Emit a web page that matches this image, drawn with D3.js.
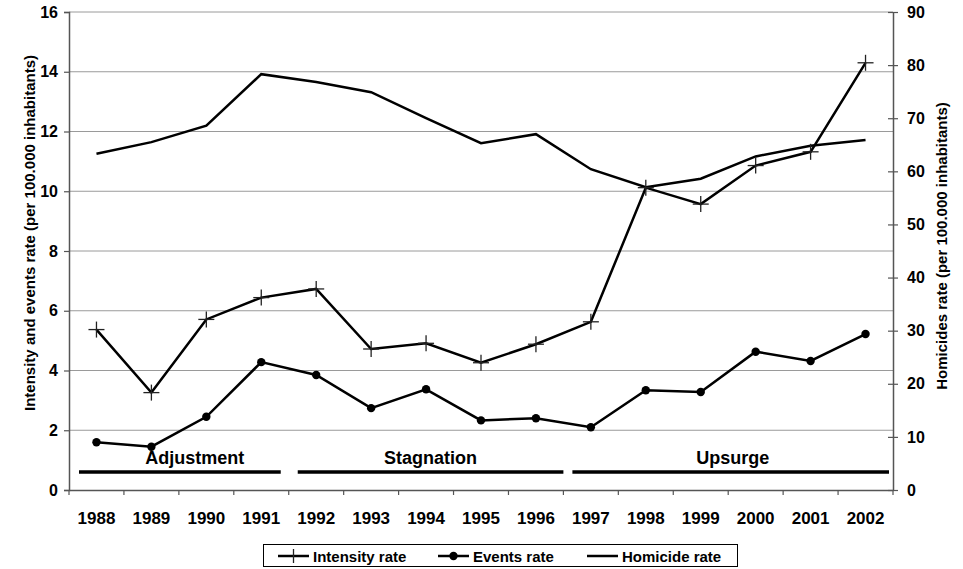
<!DOCTYPE html>
<html>
<head>
<meta charset="utf-8">
<script src="https://cdn.jsdelivr.net/npm/d3@7"></script>
<style>
  html, body { margin: 0; padding: 0; background: #fff; }
  svg { display: block; font-family: "Liberation Sans", Arial, sans-serif; font-weight: bold; }
</style>
</head>
<body>
<svg id="chart" width="963" height="569"></svg>
<script>
const years = ["1988","1989","1990","1991","1992","1993","1994","1995","1996","1997","1998","1999","2000","2001","2002"];
const intensityRate = [5.37, 3.26, 5.71, 6.44, 6.73, 4.72, 4.91, 4.26, 4.88, 5.63, 10.12, 9.57, 10.86, 11.32, 14.30];
const eventsRate    = [1.60, 1.45, 2.45, 4.28, 3.85, 2.74, 3.37, 2.33, 2.40, 2.10, 3.34, 3.28, 4.63, 4.32, 5.22];
const homicideRate  = [63.3, 65.5, 68.6, 78.3, 76.8, 74.9, 70.0, 65.3, 67.0, 60.4, 57.0, 58.6, 62.8, 64.8, 65.9];
const leftTicks = [0, 2, 4, 6, 8, 10, 12, 14, 16];
const rightTicks = [0, 10, 20, 30, 40, 50, 60, 70, 80, 90];
const periodLabels = ["Adjustment", "Stagnation", "Upsurge"];
const periodStart = ["1988", "1992", "1997"];
const periodEnd = ["1991", "1996", "2002"];
const legendLabels = ["Intensity rate", "Events rate", "Homicide rate"];

const svg = d3.select("#chart");
const L = 69, R = 893, T = 12, B = 490;
const FONT = "Liberation Sans, Arial, sans-serif";

const x = d3.scaleBand().domain(years).range([L, R]).padding(0);
const yL = d3.scaleLinear().domain([0, 16]).range([B, T]);
const yR = d3.scaleLinear().domain([0, 90]).range([B, T]);
const cx = d => x(d) + x.bandwidth() / 2;

// gridlines
svg.append("g").selectAll("line").data(leftTicks.filter(d => d > 0)).join("line")
  .attr("x1", L).attr("x2", R)
  .attr("y1", d => yL(d)).attr("y2", d => yL(d))
  .attr("stroke", "#9a9a9a").attr("stroke-width", 1);

// left axis
const gL = svg.append("g").attr("transform", `translate(${L},0)`)
  .call(d3.axisLeft(yL).tickValues(leftTicks).tickSize(5).tickPadding(6).tickFormat(d3.format("d")));
gL.select(".domain").attr("stroke", "#555").attr("stroke-width", 1.5);
gL.selectAll(".tick line").attr("stroke", "#555").attr("stroke-width", 1.2);
gL.selectAll("text").attr("font-size", 16).attr("font-weight", "bold").attr("fill", "#000")
  .attr("font-family", FONT);

// right axis
const gR = svg.append("g").attr("transform", `translate(${R},0)`)
  .call(d3.axisRight(yR).tickValues(rightTicks).tickSizeInner(5).tickSizeOuter(0).tickPadding(9).tickFormat(d3.format("d")));
gR.select(".domain").attr("stroke", "#555").attr("stroke-width", 1.5);
gR.selectAll(".tick line").attr("x1", -5).attr("stroke", "#555").attr("stroke-width", 1.2);
gR.selectAll("text").attr("font-size", 16).attr("font-weight", "bold").attr("fill", "#000")
  .attr("font-family", FONT);

// bottom axis
const gB = svg.append("g").attr("transform", `translate(0,${B})`)
  .call(d3.axisBottom(x).tickSize(0).tickPadding(22));
gB.select(".domain").attr("stroke", "#555").attr("stroke-width", 1.5);
gB.selectAll("text").attr("font-size", 17).attr("font-weight", "bold").attr("fill", "#000")
  .attr("font-family", FONT);
// tick marks at band boundaries
svg.append("g").selectAll("line").data(years.concat(["end"])).join("line")
  .attr("x1", (d, i) => L + i * x.bandwidth()).attr("x2", (d, i) => L + i * x.bandwidth())
  .attr("y1", B).attr("y2", B + 5).attr("stroke", "#555").attr("stroke-width", 1.2);

// axis titles
svg.append("text")
  .attr("transform", `translate(35,${(T + B) / 2 - 18}) rotate(-90)`)
  .attr("text-anchor", "middle").attr("font-size", 15).attr("fill", "#000")
  .text("Intensity and events rate (per 100.000 inhabitants)");
svg.append("text")
  .attr("transform", `translate(947,${(T + B) / 2 - 5}) rotate(-90)`)
  .attr("text-anchor", "middle").attr("font-size", 15).attr("fill", "#000")
  .text("Homicides rate (per 100.000 inhabitants)");

// periods
const startOff = [10, 9, 9], endOff = [-8, 0, -4], labelOff = [15, 0, 2];
periodLabels.forEach((lab, i) => {
  const x1 = x(periodStart[i]) + startOff[i];
  const x2 = x(periodEnd[i]) + x.bandwidth() + endOff[i];
  svg.append("line").attr("x1", x1).attr("x2", x2)
    .attr("y1", 472).attr("y2", 472).attr("stroke", "#000").attr("stroke-width", 3.5);
  svg.append("text").attr("x", (x1 + x2) / 2 + labelOff[i]).attr("y", 464)
    .attr("text-anchor", "middle").attr("font-size", 18).attr("fill", "#000").text(lab);
});

// lines
const lineL = d3.line().x((d, i) => cx(years[i])).y(d => yL(d));
const lineR = d3.line().x((d, i) => cx(years[i])).y(d => yR(d));

svg.append("path").datum(homicideRate).attr("d", lineR)
  .attr("fill", "none").attr("stroke", "#000").attr("stroke-width", 2.5);
svg.append("path").datum(intensityRate).attr("d", lineL)
  .attr("fill", "none").attr("stroke", "#000").attr("stroke-width", 2.5);
svg.append("path").datum(eventsRate).attr("d", lineL)
  .attr("fill", "none").attr("stroke", "#000").attr("stroke-width", 2.5);

// cross markers
const cross = (g, px, py, s) => {
  g.append("line").attr("x1", px - s).attr("x2", px + s).attr("y1", py).attr("y2", py);
  g.append("line").attr("x1", px).attr("x2", px).attr("y1", py - s).attr("y2", py + s);
};
const gc = svg.append("g").attr("stroke", "#222").attr("stroke-width", 1.3);
intensityRate.forEach((v, i) => cross(gc, cx(years[i]), yL(v), 8));

// dot markers
svg.append("g").selectAll("circle").data(eventsRate).join("circle")
  .attr("cx", (d, i) => cx(years[i])).attr("cy", d => yL(d)).attr("r", 4.2).attr("fill", "#000");

// legend
const lg = svg.append("g");
lg.append("rect").attr("x", 263.5).attr("y", 544.5).attr("width", 474).attr("height", 22)
  .attr("fill", "#fff").attr("stroke", "#000").attr("stroke-width", 1);
const legX = [278, 438, 587];
legendLabels.forEach((lab, i) => {
  const lx = legX[i], ly = 556;
  lg.append("line").attr("x1", lx).attr("x2", lx + 31).attr("y1", ly).attr("y2", ly)
    .attr("stroke", "#000").attr("stroke-width", 2.5);
  if (i === 0) {
    lg.append("line").attr("x1", lx + 15.5).attr("x2", lx + 15.5).attr("y1", ly - 7).attr("y2", ly + 7)
      .attr("stroke", "#222").attr("stroke-width", 1.3);
  } else if (i === 1) {
    lg.append("circle").attr("cx", lx + 15.5).attr("cy", ly).attr("r", 4.2).attr("fill", "#000");
  }
  lg.append("text").attr("x", lx + 35).attr("y", ly + 5.5).attr("font-size", 15).attr("fill", "#000").text(lab);
});
</script>
</body>
</html>
